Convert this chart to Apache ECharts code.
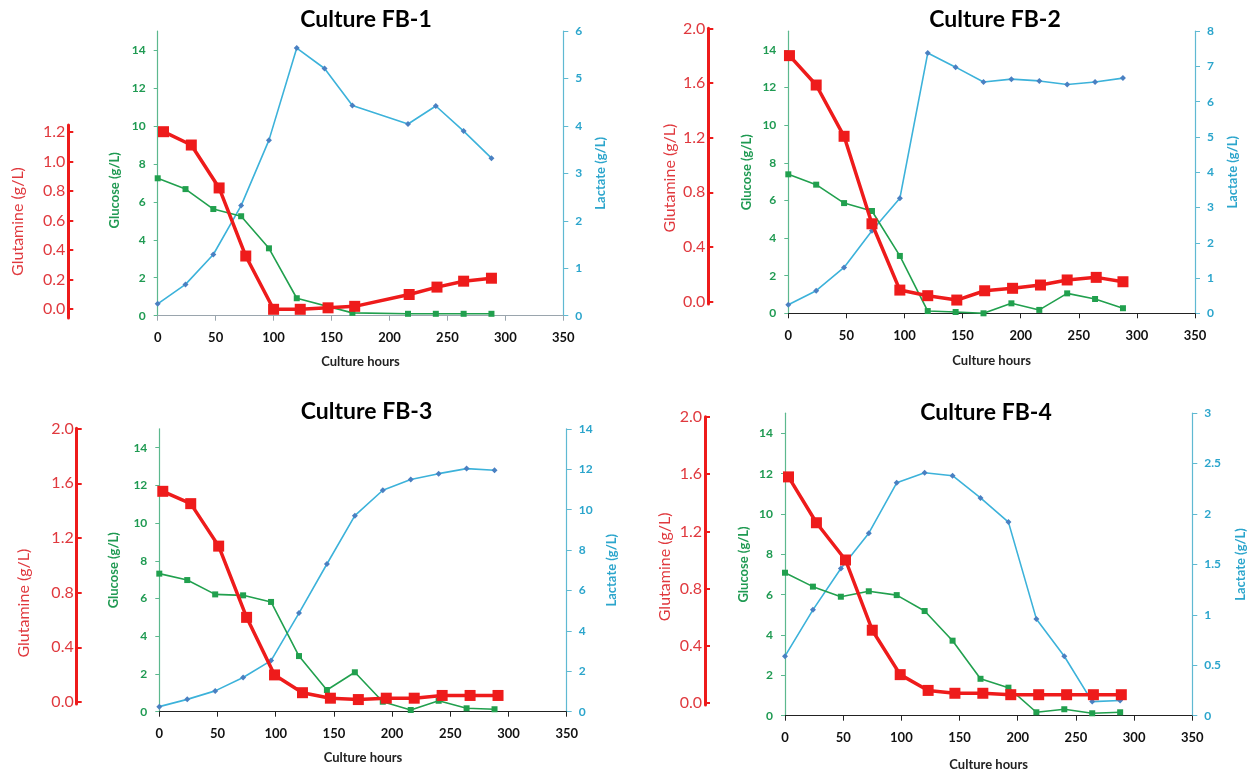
<!DOCTYPE html>
<html>
<head>
<meta charset="utf-8">
<script src="https://cdn.jsdelivr.net/npm/echarts@6/dist/echarts.min.js"></script>
<style>
  html, body { margin: 0; padding: 0; background: #fff; }
  #chart { width: 1255px; height: 778px; }
</style>
</head>
<body>
<div id="chart"></div>
<script>
// ---------------- DATA ----------------
const titles = ['Culture FB-1', 'Culture FB-2', 'Culture FB-3', 'Culture FB-4'];
const hours = [0, 24, 48, 72, 96, 120, 144, 168, 192, 216, 240, 264, 288];
const glucoseTicks = [0, 2, 4, 6, 8, 10, 12, 14];
const glutamineTicksFB1 = [0, 0.2, 0.4, 0.6, 0.8, 1.0, 1.2];
const glutamineTicks = [0, 0.4, 0.8, 1.2, 1.6, 2.0];
const lactateMax = [6, 8, 14, 3];
const lactateInterval = [1, 1, 2, 0.5];

// FB-1
const fb1GlucoseHours = [0, 24, 48, 72, 96, 120, 168, 216, 240, 264, 288];
const fb1Glucose = [7.24, 6.67, 5.62, 5.24, 3.55, 0.92, 0.15, 0.1, 0.1, 0.1, 0.1];
const fb1LactateHours = [0, 24, 48, 72, 96, 120, 144, 168, 216, 240, 264, 288];
const fb1Lactate = [0.25, 0.66, 1.29, 2.32, 3.70, 5.64, 5.21, 4.43, 4.04, 4.42, 3.89, 3.32];
const fb1GlutamineHours = [5, 29, 53, 76, 100, 123, 147, 170, 217, 241, 264, 288];
const fb1Glutamine = [1.20, 1.11, 0.82, 0.36, 0.0, 0.0, 0.01, 0.02, 0.10, 0.15, 0.19, 0.21];

// FB-2
const fb2Glucose = [7.39, 6.84, 5.86, 5.44, 3.05, 0.12, 0.07, 0.0, 0.53, 0.18, 1.06, 0.76, 0.27];
const fb2Lactate = [0.24, 0.64, 1.30, 2.34, 3.26, 7.38, 6.98, 6.56, 6.64, 6.59, 6.49, 6.56, 6.67];
const fb2GlutamineHours = [1, 24, 48, 72, 96, 120, 145, 169, 193, 217, 240, 265, 288];
const fb2Glutamine = [1.80, 1.585, 1.21, 0.57, 0.085, 0.044, 0.012, 0.08, 0.098, 0.122, 0.159, 0.178, 0.146];

// FB-3
const fb3Glucose = [7.32, 6.98, 6.22, 6.17, 5.82, 2.95, 1.15, 2.09, 0.53, 0.09, 0.58, 0.18, 0.13];
const fb3Lactate = [0.25, 0.61, 1.03, 1.69, 2.53, 4.88, 7.31, 9.70, 10.96, 11.49, 11.78, 12.03, 11.95];
const fb3GlutamineHours = [3, 27, 51, 75, 99, 123, 147, 171, 195, 219, 243, 267, 291];
const fb3Glutamine = [1.54, 1.45, 1.14, 0.62, 0.20, 0.07, 0.03, 0.02, 0.03, 0.03, 0.05, 0.05, 0.05];

// FB-4
const fb4Glucose = [7.09, 6.40, 5.90, 6.17, 5.98, 5.19, 3.72, 1.83, 1.39, 0.17, 0.32, 0.12, 0.17];
const fb4Lactate = [0.59, 1.05, 1.46, 1.81, 2.31, 2.41, 2.38, 2.16, 1.92, 0.96, 0.59, 0.14, 0.15];
const fb4GlutamineHours = [3, 27, 52, 75, 99, 123, 146, 170, 194, 218, 242, 265, 289];
const fb4Glutamine = [1.58, 1.26, 1.00, 0.51, 0.20, 0.09, 0.07, 0.07, 0.06, 0.06, 0.06, 0.06, 0.06];

// ---------------- LAYOUT (pixels) ----------------
const W = 1255, H = 778;
const layout = [
  { x0: 157.7, x1: 563.3, top: 31.0, bot: 315.7, gx: 68.3, g0: 309.3, gppu: 148, gTop: 125, gBot: 318,
    tx: 366, ty: 20, glcGap: 36, glcShift: 34, lacGap: 31, glnGap: 42, glnShift: 0, xLine: '#9aa5ad', xNameGap: 40 },
  { x0: 788.3, x1: 1195, top: 31.2, bot: 313.3, gx: 708.3, g0: 301.7, gppu: 136.7, gTop: 28.3, gBot: 304,
    tx: 995, ty: 20, glcGap: 35, glcShift: 0, lacGap: 31, glnGap: 30, glnShift: 24, xLine: '#222', xNameGap: 41 },
  { x0: 159.3, x1: 566.7, top: 428.8, bot: 711.7, gx: 76.7, g0: 702.3, gppu: 137, gTop: 428.3, gBot: 704,
    tx: 366.5, ty: 411.7, glcGap: 39, glcShift: 0, lacGap: 39, glnGap: 45, glnShift: 74, xLine: '#222', xNameGap: 40 },
  { x0: 785, x1: 1192.3, top: 413.2, bot: 715.7, gx: 705, g0: 703.3, gppu: 143.3, gTop: 416.7, gBot: 705,
    tx: 986, ty: 413, glcGap: 35, glcShift: 0, lacGap: 42, glnGap: 32, glnShift: 12, xLine: '#222', xNameGap: 43 }
];

// ---------------- STYLE ----------------
const FONT = 'Lato, "Open Sans", sans-serif';
const GREEN = '#21a04e', GREEN_TXT = '#1f9a52', GREEN_AXIS = '#5cb88e';
const BLUE_LINE = '#3cb2da', BLUE_MARK = '#4a80c2', BLUE_TXT = '#2ba5cc', BLUE_AXIS = '#5fb9d2';
const RED = '#ee1b1b', RED_TXT = '#e0393e';

const panelData = [
  { gH: fb1GlucoseHours, g: fb1Glucose, lH: fb1LactateHours, l: fb1Lactate, qH: fb1GlutamineHours, q: fb1Glutamine, qT: glutamineTicksFB1 },
  { gH: hours, g: fb2Glucose, lH: hours, l: fb2Lactate, qH: fb2GlutamineHours, q: fb2Glutamine, qT: glutamineTicks },
  { gH: hours, g: fb3Glucose, lH: hours, l: fb3Lactate, qH: fb3GlutamineHours, q: fb3Glutamine, qT: glutamineTicks },
  { gH: hours, g: fb4Glucose, lH: hours, l: fb4Lactate, qH: fb4GlutamineHours, q: fb4Glutamine, qT: glutamineTicks }
];

const zip = (xs, ys) => xs.map((x, i) => [x, ys[i]]);

const grid = [], xAxis = [], yAxis = [], series = [], graphic = [];
const EPS = 0.002;

panelData.forEach((d, p) => {
  const L = layout[p];
  const mainGrid = grid.length;
  grid.push({ left: L.x0, right: W - L.x1, top: L.top, bottom: H - L.bot, containLabel: false });
  const glnGrid = grid.length;
  grid.push({ left: L.gx, width: 10, top: L.gTop, height: L.gBot - L.gTop, containLabel: false });

  const xMain = xAxis.length;
  xAxis.push({
    type: 'value', gridIndex: mainGrid, min: 0, max: 350, interval: 50,
    name: 'Culture hours', nameLocation: 'middle', nameGap: L.xNameGap,
    nameTextStyle: { fontFamily: FONT, fontWeight: 'bold', fontSize: 13, color: '#222' },
    axisLine: { onZero: false, lineStyle: { color: L.xLine, width: 1.2 } },
    axisTick: { show: true, length: 5, lineStyle: { color: L.xLine } },
    axisLabel: { fontFamily: FONT, fontWeight: 'bold', fontSize: 13, color: '#111', margin: 16 },
    splitLine: { show: false }
  });
  xAxis.push({ type: 'value', gridIndex: glnGrid, show: false, min: 0, max: 1 });

  const yGlc = yAxis.length;
  yAxis.push({
    type: 'value', gridIndex: mainGrid, position: 'left', min: 0, max: 15, interval: 1,
    name: 'Glucose (g/L)', nameLocation: 'middle', nameGap: L.glcGap,
    nameTextStyle: { fontFamily: FONT, fontWeight: 'bold', fontSize: 13, color: GREEN_TXT,
      padding: [0, L.glcShift, 0, 0] },
    axisLine: { show: true, onZero: false, lineStyle: { color: GREEN_AXIS, width: 1.2 } },
    axisTick: { show: true, length: 4, customValues: glucoseTicks, lineStyle: { color: GREEN_AXIS } },
    axisLabel: { fontFamily: FONT, fontWeight: 'bold', fontSize: 12, color: GREEN_TXT, margin: 12,
      customValues: glucoseTicks },
    splitLine: { show: false }
  });
  const yLac = yAxis.length;
  yAxis.push({
    type: 'value', gridIndex: mainGrid, position: 'right', min: 0, max: lactateMax[p], interval: lactateInterval[p],
    name: 'Lactate (g/L)', nameLocation: 'middle', nameGap: L.lacGap,
    nameTextStyle: { fontFamily: FONT, fontWeight: 'bold', fontSize: 13, color: BLUE_TXT },
    axisLine: { show: true, onZero: false, lineStyle: { color: BLUE_AXIS, width: 1.2 } },
    axisTick: { show: true, length: 5, lineStyle: { color: BLUE_AXIS } },
    axisLabel: { fontFamily: FONT, fontWeight: 'bold', fontSize: 12, color: BLUE_TXT, margin: 12 },
    splitLine: { show: false }
  });
  // hidden glutamine scale inside the main plot, same pixel scale as the visible red axis
  const yGlnHidden = yAxis.length;
  yAxis.push({
    type: 'value', gridIndex: mainGrid, position: 'left', show: false,
    min: -(L.bot - L.g0) / L.gppu, max: (L.g0 - L.top) / L.gppu,
    splitLine: { show: false }
  });
  // visible red glutamine axis
  yAxis.push({
    type: 'value', gridIndex: glnGrid, position: 'left',
    min: -(L.gBot - L.g0) / L.gppu - EPS, max: (L.g0 - L.gTop) / L.gppu + EPS,
    name: 'Glutamine (g/L)', nameLocation: 'middle', nameGap: L.glnGap,
    nameTextStyle: { fontFamily: FONT, fontSize: 16, color: RED_TXT, padding: [0, L.glnShift, 0, 0] },
    axisLine: { show: true, onZero: false, lineStyle: { color: RED, width: 3 } },
    axisTick: { show: true, inside: true, length: 5, customValues: d.qT, lineStyle: { color: RED, width: 2 } },
    axisLabel: { fontFamily: FONT, fontSize: 16, color: RED_TXT, margin: 3, customValues: d.qT,
      formatter: v => Number(v).toFixed(1) },
    splitLine: { show: false }
  });

  series.push({
    type: 'line', name: 'Lactate', xAxisIndex: xMain, yAxisIndex: yLac, data: zip(d.lH, d.l),
    symbol: 'diamond', symbolSize: 6, z: 2,
    lineStyle: { color: BLUE_LINE, width: 1.6 }, itemStyle: { color: BLUE_MARK }, animation: false
  });
  series.push({
    type: 'line', name: 'Glucose', xAxisIndex: xMain, yAxisIndex: yGlc, data: zip(d.gH, d.g),
    symbol: 'rect', symbolSize: 6, z: 3,
    lineStyle: { color: GREEN, width: 1.6 }, itemStyle: { color: GREEN }, animation: false
  });
  series.push({
    type: 'line', name: 'Glutamine', xAxisIndex: xMain, yAxisIndex: yGlnHidden, data: zip(d.qH, d.q),
    symbol: 'rect', symbolSize: 11, z: 4,
    lineStyle: { color: RED, width: 3.5 }, itemStyle: { color: RED }, animation: false
  });

  graphic.push({
    type: 'text', x: L.tx, y: L.ty,
    style: { text: titles[p], fontFamily: FONT, fontWeight: 'bold', fontSize: 23, fill: '#000',
      textAlign: 'center', textVerticalAlign: 'middle' }
  });
});

const chart = echarts.init(document.getElementById('chart'), null, { renderer: 'canvas' });
chart.setOption({
  animation: false,
  backgroundColor: '#fff',
  grid, xAxis, yAxis, series, graphic
});
</script>
</body>
</html>
